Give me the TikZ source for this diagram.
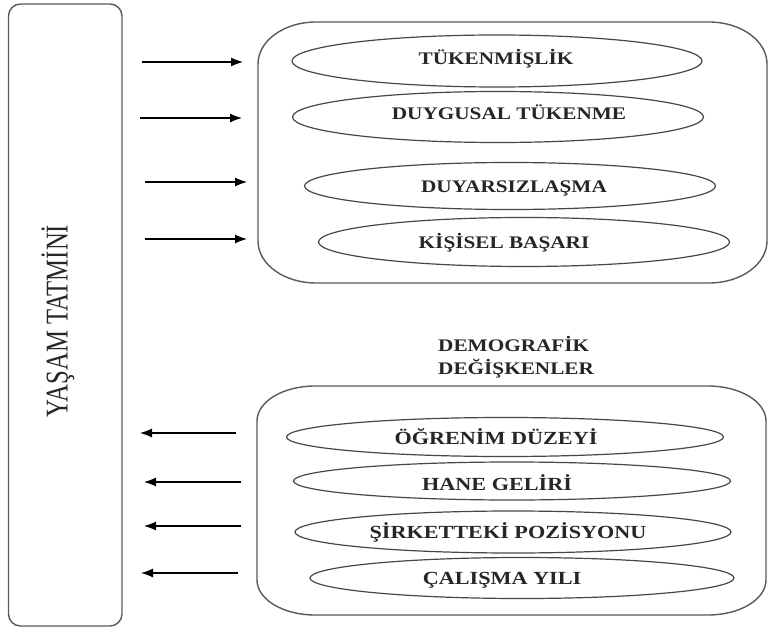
\documentclass[tikz,border=0pt]{standalone}
\usepackage{fontspec}
\setmainfont{Liberation Serif}
\newfontfamily\ellfont[FakeStretch=1.2]{Liberation Serif Bold}
\newfontfamily\rotfont[FakeStretch=0.78]{Liberation Serif}
\usetikzlibrary{shapes.geometric,arrows.meta}
\definecolor{boxgray}{HTML}{5A5A5A}
\definecolor{ellgray}{HTML}{474747}
\definecolor{txtgray}{HTML}{262626}
\tikzset{
  boxline/.style={draw=boxgray, line width=1.4pt},
  ell/.style={ellipse, draw=ellgray, line width=1.2pt, inner sep=0pt},
  lbl/.style={inner sep=0pt, text=txtgray, text height=12pt, text depth=0pt, font=\ellfont\fontsize{17.7}{20}\selectfont},
  lblb/.style={lbl, font=\ellfont\fontsize{18.5}{20}\selectfont},
  arr/.style={draw=black, line width=1.1pt, -{Latex[length=12pt,width=9pt]}}
}
\begin{document}
\begin{tikzpicture}[x=1pt,y=1pt]
\useasboundingbox (0,0) rectangle (768,630);
\fill[white] (0,0) rectangle (768,630);

% left box
\node[boxline, rectangle, rounded corners=12pt, minimum width=113.5pt, minimum height=622pt, inner sep=0pt] (L) at (65.25,315) {};
\node[rotate=90, inner sep=0pt, text=txtgray, font=\rotfont\fontsize{31.7}{34}\selectfont] (Ltext) at (58,309) {YAŞAM TATMİNİ};

% top group box (elliptical corners)
\draw[boxline] (316,608) -- (709,608) arc[start angle=90,end angle=0,x radius=58,y radius=42]
  -- (767,389) arc[start angle=0,end angle=-90,x radius=58,y radius=42]
  -- (316,347) arc[start angle=-90,end angle=-180,x radius=58,y radius=42]
  -- (258,566) arc[start angle=180,end angle=90,x radius=58,y radius=42] -- cycle;

% bottom group box
\draw[boxline] (315,244) -- (708,244) arc[start angle=90,end angle=0,x radius=58,y radius=35]
  -- (766,50) arc[start angle=0,end angle=-90,x radius=58,y radius=35]
  -- (315,15) arc[start angle=-90,end angle=-180,x radius=58,y radius=35]
  -- (257,209) arc[start angle=180,end angle=90,x radius=58,y radius=35] -- cycle;

% top ellipses
\node[ell, minimum width=410pt, minimum height=52pt] (E1) at (497,569) {};
\node[ell, minimum width=411pt, minimum height=51pt] (E2) at (498,513) {};
\node[ell, minimum width=411pt, minimum height=47pt] (E3) at (510,444) {};
\node[ell, minimum width=411pt, minimum height=49pt] (E4) at (524,388) {};
\node[lbl] (t1) at (496,571) {TÜKENMİŞLİK};
\node[lbl] (t2) at (509,516) {DUYGUSAL TÜKENME};
\node[lbl] (t3) at (514,443) {DUYARSIZLAŞMA};
\node[lbl] (t4) at (504,387) {KİŞİSEL BAŞARI};

% demographic title
\node[lbl, anchor=west] (d1) at (438,285) {DEMOGRAFİK};
\node[lbl, anchor=west] (d2) at (438,262) {DEĞİŞKENLER};

% bottom ellipses
\node[ell, minimum width=437pt, minimum height=39pt] (F1) at (505,193) {};
\node[ell, minimum width=437pt, minimum height=38pt] (F2) at (512,149) {};
\node[ell, minimum width=436pt, minimum height=42pt] (F3) at (513,98) {};
\node[ell, minimum width=424pt, minimum height=41pt] (F4) at (522,52) {};
\node[lblb] (u1) at (496,192) {ÖĞRENİM DÜZEYİ};
\node[lblb] (u2) at (497,146) {HANE GELİRİ};
\node[lblb] (u3) at (508,98) {ŞİRKETTEKİ POZİSYONU};
\node[lblb] (u4) at (502,52) {ÇALIŞMA YILI};

% arrow end points
\coordinate (a1s) at (142,568); \coordinate (a1e) at (243,568);
\coordinate (a2s) at (140,512); \coordinate (a2e) at (242,512);
\coordinate (a3s) at (145,448); \coordinate (a3e) at (247,448);
\coordinate (a4s) at (145,391); \coordinate (a4e) at (247,391);
\coordinate (b1s) at (236,197); \coordinate (b1e) at (140,197);
\coordinate (b2s) at (241,148); \coordinate (b2e) at (144,148);
\coordinate (b3s) at (241,104); \coordinate (b3e) at (144,104);
\coordinate (b4s) at (238,57);  \coordinate (b4e) at (141,57);

\draw[arr] (a1s) -- (a1e);
\draw[arr] (a2s) -- (a2e);
\draw[arr] (a3s) -- (a3e);
\draw[arr] (a4s) -- (a4e);
\draw[arr] (b1s) -- (b1e);
\draw[arr] (b2s) -- (b2e);
\draw[arr] (b3s) -- (b3e);
\draw[arr] (b4s) -- (b4e);
\end{tikzpicture}
\end{document}
